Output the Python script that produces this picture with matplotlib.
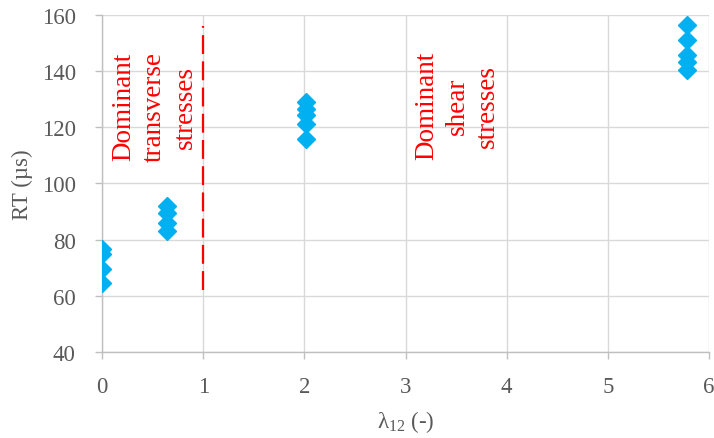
import matplotlib
matplotlib.use('Agg')
import matplotlib.pyplot as plt

plt.rcParams['font.family'] = ['Liberation Serif', 'DejaVu Serif']
plt.rcParams['mathtext.fontset'] = 'custom'
plt.rcParams['mathtext.rm'] = 'Liberation Serif'
plt.rcParams['mathtext.it'] = 'Liberation Serif:italic'

# данные: лямбда_12 и RT (мкс)
lam = [0, 0, 0, 0,
       0.64, 0.64, 0.64, 0.64,
       2.02, 2.02, 2.02, 2.02, 2.02,
       5.78, 5.78, 5.78, 5.78, 5.78]
rt = [76.5, 74.8, 69.5, 64.7,
      92, 89.6, 86, 83,
      129, 126.6, 124.2, 121.3, 115.9,
      156.4, 151, 145.7, 143.3, 140.3]

# граница областей
border_x = [1, 1]
border_y = [62, 156]

xticks = [0, 1, 2, 3, 4, 5, 6]
yticks = [40, 60, 80, 100, 120, 140, 160]

grey = '#595959'

fig = plt.figure(figsize=(7.14, 4.39), dpi=100)
ax = fig.add_axes([0.143, 0.196, 0.850, 0.768])

ax.plot(lam, rt, linestyle='none', marker='D', markersize=9.5,
        color='#00B0F0', zorder=3)
ax.plot(border_x, border_y, color='red', linewidth=1.6,
        dashes=(8.5, 3.3), zorder=2)

ax.text(0.52, 127.5, 'Dominant\ntransverse\nstresses', rotation=90,
        ha='center', va='center', multialignment='center',
        color='red', fontsize=19.5, linespacing=1.3)
ax.text(3.51, 127.8, 'Dominant\nshear\nstresses', rotation=90,
        ha='center', va='center', multialignment='center',
        color='red', fontsize=19.5, linespacing=1.3)

ax.set_xlim(0, 6)
ax.set_ylim(40, 160)
ax.set_xticks(xticks)
ax.set_yticks(yticks)
ax.grid(True, color='#d9d9d9', linewidth=1.0)
ax.set_axisbelow(True)

for s in ['top', 'right']:
    ax.spines[s].set_visible(False)
for s in ['left', 'bottom']:
    ax.spines[s].set_color('#bfbfbf')
    ax.spines[s].set_linewidth(1.0)

ax.tick_params(axis='both', colors='#bfbfbf', labelcolor=grey,
               labelsize=16.5, length=5, width=1.0)
ax.tick_params(axis='y', pad=14)
ax.tick_params(axis='x', pad=12)

ax.set_xlabel('λ$_{12}$ (-)', color=grey, fontsize=16.5, labelpad=8)
ax.set_ylabel('RT (µs)', color=grey, fontsize=16.5, labelpad=6)

fig.savefig('out.png', dpi=100)
